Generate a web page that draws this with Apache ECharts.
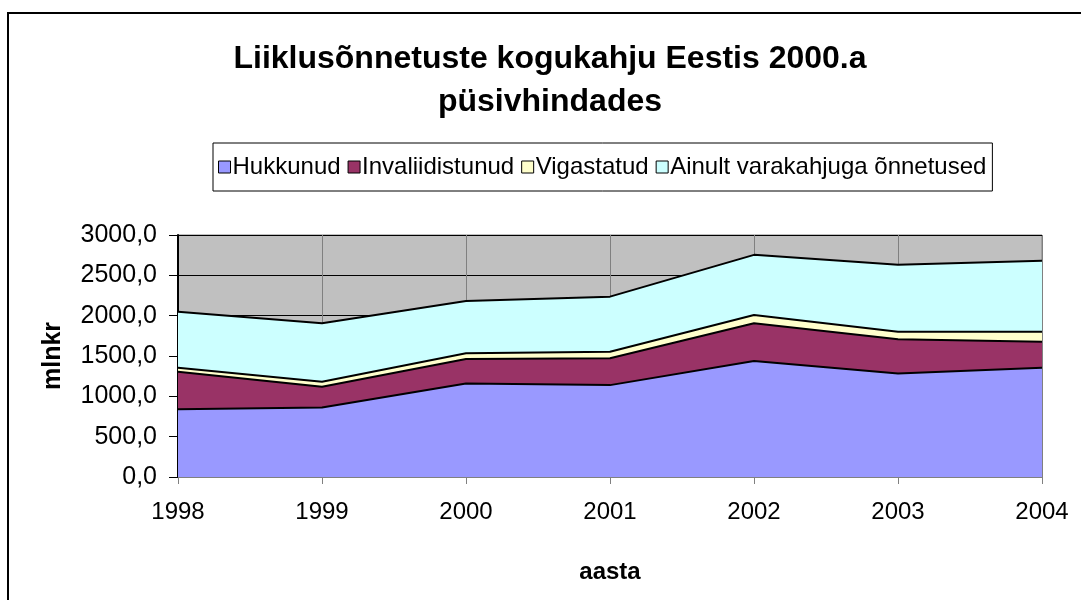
<!DOCTYPE html>
<html>
<head>
<meta charset="utf-8">
<script src="https://cdn.jsdelivr.net/npm/echarts@6/dist/echarts.min.js"></script>
<style>
  html, body { margin: 0; padding: 0; background: #fff; }
  #chart { width: 1081px; height: 600px; }
</style>
</head>
<body>
<div id="chart"></div>
<script>
// aastad
const years = ["1998", "1999", "2000", "2001", "2002", "2003", "2004"];
// kahju mln kr (püsivhindades), loetud pildilt
const hukkunud = [841, 862, 1160, 1139, 1437, 1284, 1354];
const invaliidistunud = [463, 256, 302, 332, 468, 423, 323];
const vigastatud = [50, 62, 71, 82, 104, 94, 124];
const varakahju = [696, 725, 649, 683, 745, 829, 879];
const yTicks = [0, 500, 1000, 1500, 2000, 2500, 3000];

const font = "'Liberation Sans', Arial, sans-serif";
const names = ["Hukkunud", "Invaliidistunud", "Vigastatud", "Ainult varakahjuga õnnetused"];
const colors = ["#9999FF", "#993366", "#FFFFCC", "#CCFFFF"];
const values = [hukkunud, invaliidistunud, vigastatud, varakahju];

const chart = echarts.init(document.getElementById("chart"));

// üks kihiline pind
function makeSeries(i) {
  return {
    name: names[i],
    type: "line",
    stack: "kokku",
    data: values[i],
    showSymbol: false,
    symbol: "none",
    itemStyle: { color: colors[i] },
    lineStyle: { color: "#000", width: 2 },
    areaStyle: { color: colors[i], opacity: 1 },
    z: 2
  };
}

chart.setOption({
  animation: false,
  textStyle: { fontFamily: font },
  graphic: [
    {
      type: "rect",
      shape: { x: 8, y: 13, width: 1200, height: 700 },
      style: { fill: "none", stroke: "#000", lineWidth: 2 },
      z: 0
    }
  ],
  title: {
    text: "Liiklusõnnetuste kogukahju Eestis 2000.a\npüsivhindades",
    left: 550,
    top: 38,
    padding: 0,
    textAlign: "center",
    textStyle: {
      fontFamily: font,
      fontSize: 32,
      fontWeight: "bold",
      color: "#000",
      lineHeight: 43
    }
  },
  legend: {
    left: 213,
    top: 143,
    padding: [12, 6, 12, 5],
    borderColor: "#000",
    borderWidth: 1,
    itemWidth: 12,
    itemHeight: 12,
    itemGap: 7,
    icon: "rect",
    textStyle: { fontFamily: font, fontSize: 24, color: "#000", padding: [0, 0, 0, -3] },
    data: names.map((n, i) => ({
      name: n,
      itemStyle: { color: colors[i], borderColor: "#000", borderWidth: 1 }
    }))
  },
  grid: {
    left: 178,
    right: 39,
    top: 235,
    bottom: 123,
    show: true,
    backgroundColor: "#C0C0C0",
    borderColor: "#808080",
    borderWidth: 1
  },
  xAxis: {
    type: "category",
    data: years,
    boundaryGap: false,
    name: "aasta",
    nameLocation: "middle",
    nameGap: 83,
    nameTextStyle: { fontFamily: font, fontSize: 24, fontWeight: "bold", color: "#000" },
    axisLine: { lineStyle: { color: "#808080", width: 1 } },
    axisTick: { alignWithLabel: true, length: 7, lineStyle: { color: "#808080" } },
    axisLabel: { fontFamily: font, fontSize: 24, color: "#000", margin: 23 },
    splitLine: { show: true, lineStyle: { color: "#808080", width: 1 } }
  },
  yAxis: {
    type: "value",
    min: yTicks[0],
    max: yTicks[yTicks.length - 1],
    interval: 500,
    name: "mlnkr",
    nameLocation: "middle",
    nameGap: 112,
    nameRotate: 90,
    nameTextStyle: { fontFamily: font, fontSize: 25, fontWeight: "bold", color: "#000" },
    axisLine: { show: true, lineStyle: { color: "#000", width: 2 } },
    axisTick: { show: true, length: 9, lineStyle: { color: "#000" } },
    axisLabel: {
      fontFamily: font,
      fontSize: 25,
      color: "#000",
      margin: 21,
      formatter: v => v.toFixed(1).replace(".", ",")
    },
    splitLine: { show: true, lineStyle: { color: "#000", width: 1 } }
  },
  series: [0, 1, 2, 3].map(makeSeries)
});
</script>
</body>
</html>
